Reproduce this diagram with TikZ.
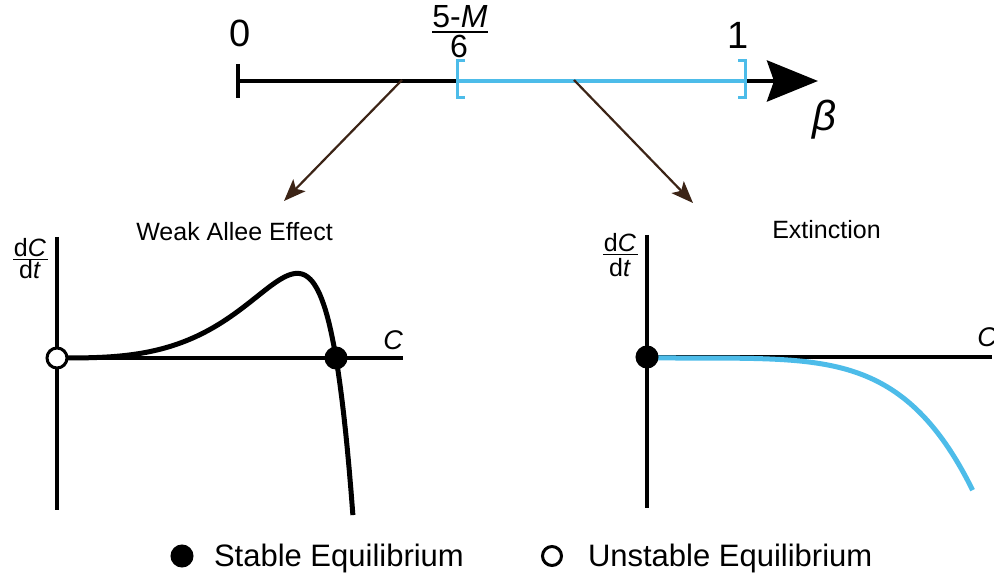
\documentclass[tikz,border=0pt]{standalone}
\usepackage{fontspec}
\setmainfont{Liberation Sans}
\usetikzlibrary{arrows.meta}
\definecolor{eqblue}{RGB}{77,188,233}
\definecolor{arrbrown}{RGB}{60,36,22}
\newcommand\myfs[1]{\fontsize{#1}{#1}\selectfont}
\begin{document}
\begin{tikzpicture}[x=1pt,y=-1pt,
  lbl/.style={inner sep=0pt, outer sep=0pt, anchor=base},
  axis/.style={line width=3.5pt, black},
  curveblack/.style={line width=5pt, black},
  curveblue/.style={line width=5pt, eqblue},
  stable/.style={circle, fill=black, draw=black, line width=1pt, minimum size=22pt, inner sep=0pt},
  unstable/.style={circle, fill=white, draw=black, line width=3pt, minimum size=20pt, inner sep=0pt},
  pointer/.style={line width=2.2pt, arrbrown, -{Stealth[length=22pt,width=17pt,inset=5pt]}},
  fracbar/.style={line width=1.8pt}
]
\useasboundingbox (0,0) rectangle (994,577);

% ---------- number line ----------
\coordinate (nl0) at (238,81);
\coordinate (nlM) at (457.5,81);
\coordinate (nl1) at (745,81);
\coordinate (nlend) at (818,81);
\draw[line width=4.5pt, -{Stealth[length=51pt,width=41pt,inset=7pt]}] (nl0) -- (nlend);
\draw[line width=3.5pt] (238,64) -- (238,98);
\draw[line width=4.5pt, eqblue] (nlM) -- (nl1);
\draw[line width=3pt, eqblue] (465,61) -- (457.5,61) -- (457.5,98) -- (465,98);
\draw[line width=3pt, eqblue] (738,61) -- (745.5,61) -- (745.5,98) -- (738,98);

\node[lbl, font=\myfs{38}] (zero) at (240,47) {0};
\node[lbl, font=\myfs{38}] (one) at (738,49) {1};
\node[lbl, font=\myfs{32}] (num) at (460,28) {5-\textit{M}};
\node[lbl, font=\myfs{32}] (den) at (459,58) {6};
\draw[fracbar] ([yshift=-4pt]num.base west) -- ([yshift=-4pt]num.base east);
\node[lbl, font=\myfs{42}\itshape] (beta) at (824,131) {β};

% ---------- pointers ----------
\coordinate (p1s) at (402,80);
\coordinate (p1e) at (284,201);
\coordinate (p2s) at (574,80);
\coordinate (p2e) at (693,203);
\draw[pointer] (p1s) -- (p1e);
\draw[pointer] (p2s) -- (p2e);

% ---------- left plot ----------
\node[lbl, font=\myfs{25}] (t1) at (234.5,241) {Weak Allee Effect};
\draw[axis] (57,237) -- (57,510);
\draw[axis] (57,358) -- (403,358);
\node[lbl, font=\myfs{27}\itshape] (c1) at (393,350) {C};
\node[lbl, font=\myfs{25}] (n1) at (30,257) {d\textit{C}};
\node[lbl, font=\myfs{25}] (d1) at (30,279) {d\textit{t}};
\draw[fracbar] (13,259.5) -- (48,259.5);
\draw[curveblack] (57,358) -- plot[domain=0.01:1.062, samples=160, variable=\u]
  ({57+279*\u},{358-173.9*(\u*\u*\u*(1-exp(9.6*ln(\u))))});
\node[unstable] (u1) at (57,358) {};
\node[stable] (s1) at (336,358) {};

% ---------- right plot ----------
\node[lbl, font=\myfs{25}] (t2) at (826.5,239) {Extinction};
\draw[axis] (647,235) -- (647,508);
\draw[axis] (647,357) -- (992,357);
\node[lbl, font=\myfs{27}\itshape] (c2) at (987,347) {C};
\node[lbl, font=\myfs{25}] (n2) at (620,252) {d\textit{C}};
\node[lbl, font=\myfs{25}] (d2) at (620,277) {d\textit{t}};
\draw[fracbar] (603,254.5) -- (638,254.5);
\draw[curveblue] plot[domain=0:1, samples=120, variable=\u]
  ({647+326*\u},{358+133*\u*\u*\u*\u*\u});
\node[stable] (s2) at (647,357) {};

% ---------- legend ----------
\node[stable] (ls) at (182,556) {};
\node[lbl, anchor=base west, font=\myfs{31}] (lst) at (214,566) {Stable Equilibrium};
\node[unstable, minimum size=19pt] (lu) at (552,556) {};
\node[lbl, anchor=base west, font=\myfs{31}] (lut) at (588,566) {Unstable Equilibrium};
\end{tikzpicture}
\end{document}
